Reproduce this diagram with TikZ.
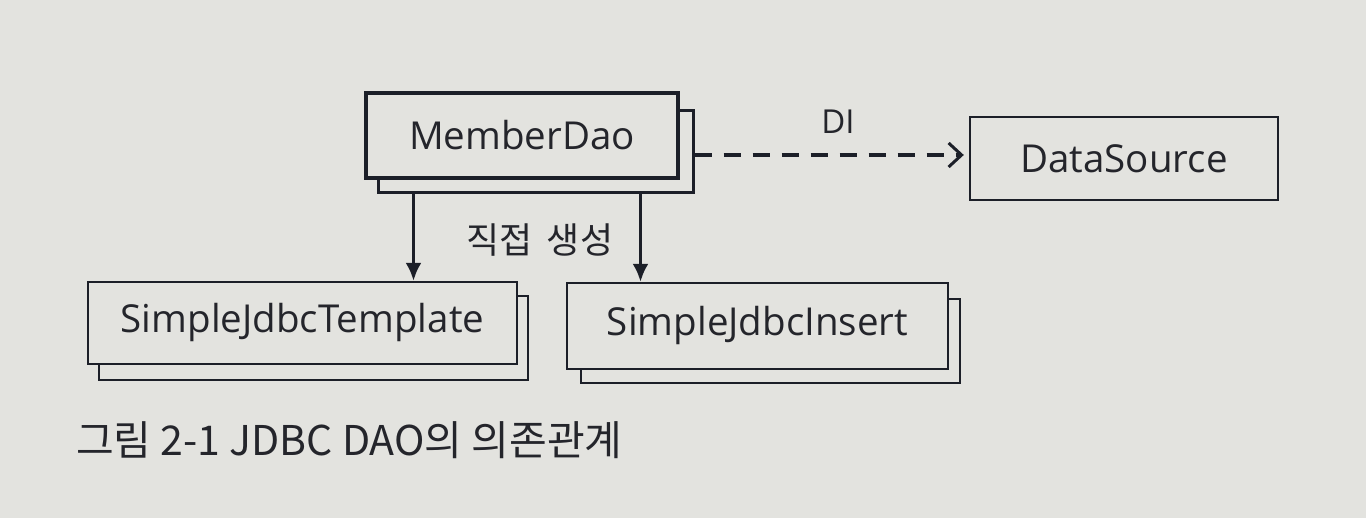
\documentclass[tikz,border=0pt]{standalone}
\usepackage{fontspec}
\setmainfont{Open Sans}
\newfontfamily\kr{Noto Sans CJK KR}
\usetikzlibrary{arrows.meta,calc}
\definecolor{bg}{HTML}{E3E3DF}
\definecolor{ink}{HTML}{1C1F28}
\definecolor{txt}{HTML}{24252B}
\tikzset{
  box/.style={draw=ink, fill=bg, line width=2.4pt, rectangle, inner sep=0pt,
    text=txt, font=\fontsize{38.5}{42}\selectfont},
  thickbox/.style={box, line width=4pt},
  backbox/.style={draw=ink, fill=bg, line width=2.4pt, rectangle, inner sep=0pt},
  arr/.style={draw=ink, line width=3pt, -{Latex[length=18pt,width=16pt]}},
  diarr/.style={draw=ink, line width=3.2pt, dash pattern=on 17pt off 12pt,
    -{Straight Barb[length=13pt,width=24pt,line width=3pt]}},
  lbl/.style={text=txt, inner sep=0pt}
}
\begin{document}
\begin{tikzpicture}[x=1pt,y=-1pt]
\fill[bg] (0,0) rectangle (1366,518);
\useasboundingbox (0,0) rectangle (1366,518);
% MemberDao
\node[backbox, line width=3pt, minimum width=315pt, minimum height=82pt] (mb) at (535.5,152) {};
\node[thickbox, minimum width=312pt, minimum height=85pt] (m) at (522,135.5) {MemberDao};
% SimpleJdbcTemplate
\node[backbox, minimum width=429pt, minimum height=84pt] (tb) at (313.5,338) {};
\node[box, minimum width=429pt, minimum height=82pt] (t) at (302.5,323) {SimpleJdbcTemplate};
% SimpleJdbcInsert
\node[backbox, minimum width=379pt, minimum height=84pt] (ib) at (770.5,341) {};
\node[box, minimum width=381pt, minimum height=86pt] (i) at (757.5,326) {SimpleJdbcInsert};
% DataSource
\node[box, minimum width=308pt, minimum height=83pt] (ds) at (1124,158.5) {DataSource};
% connectors
\draw[arr] ([xshift=37pt]mb.south west) -- ([xshift=37pt]mb.south west |- t.north);
\draw[arr] ([xshift=264pt]mb.south west) -- ([xshift=264pt]mb.south west |- i.north);
\draw[diarr, shorten >=5pt] ([yshift=-3pt]mb.east) -- ([yshift=-3pt]mb.east -| ds.west);
% labels
\node[lbl, font=\fontsize{33}{36}\selectfont] (di) at (838,122) {DI};
\node[lbl, font=\kr\fontsize{36}{40}\selectfont] (dc) at (540,240) {직접\hspace{14pt}생성};
\node[lbl, font=\kr\fontsize{41}{46}\selectfont, anchor=west] (cap) at (76,440) {그림 2-1 JDBC DAO의 의존관계};
\end{tikzpicture}
\end{document}
